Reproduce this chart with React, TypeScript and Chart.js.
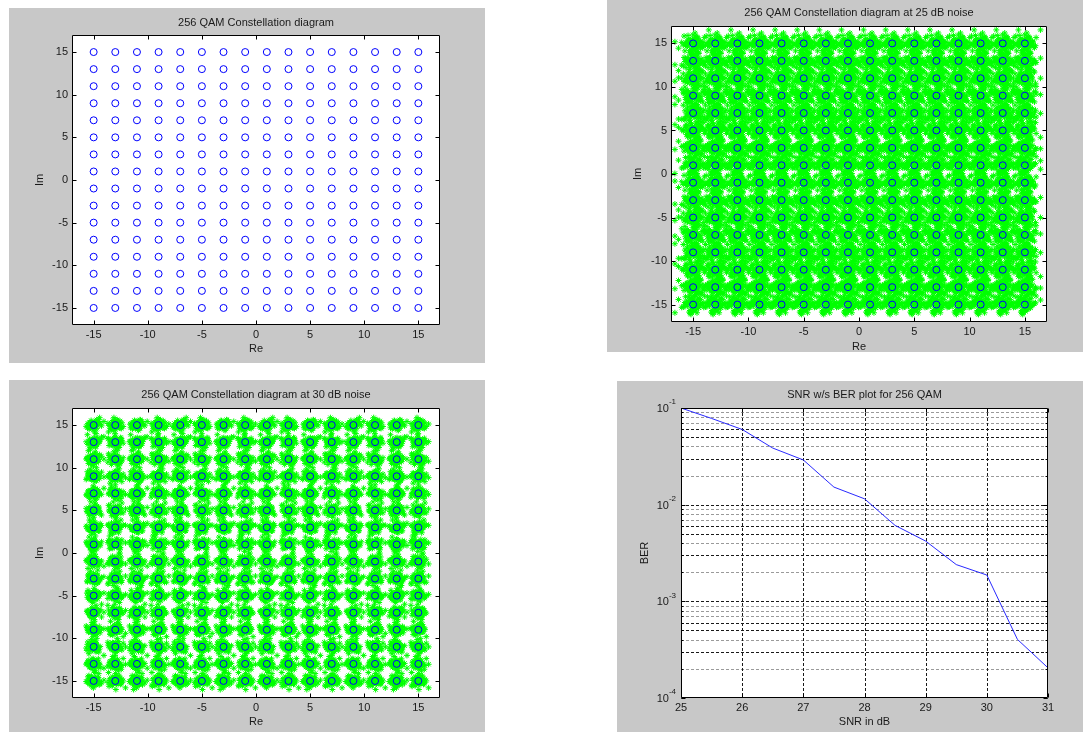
import React, { useEffect, useRef } from 'react';
import { Chart, registerables } from 'chart.js';

Chart.register(...registerables);

// ---------------- data ----------------
const QAM_LEVELS = [-15, -13, -11, -9, -7, -5, -3, -1, 1, 3, 5, 7, 9, 11, 13, 15];
const IQ_TICKS = [-15, -10, -5, 0, 5, 10, 15];
const IQ_MIN = -17;
const IQ_MAX = 17;

// hand-typed unit-variance noise samples (re-used per symbol, scaled per SNR)
const NOISE_X = [
  0.12, -0.85, 1.34, -0.27, 0.63, -1.52, 0.05, 0.91, -0.44, 1.78, -0.66, 0.29, -1.13, 0.47, -0.08, 1.05,
  -1.91, 0.38, -0.59, 0.82, -0.21, 1.46, -0.97, 0.17, 0.71, -1.28, 0.56, -0.35, 2.62, -0.73, 0.24, -0.02,
  1.19, -1.64, 0.43, -0.51, 0.88, -0.14, -1.05, 0.66, 1.61, -0.39, 0.33, -2.45, 0.09, 0.95, -0.78, 0.52,
  -0.26, 1.27, -1.37, 0.19, -0.61, 0.74, -0.11, 1.88, -0.93, 0.36, -0.47, 0.58, -1.21, 0.02, 0.81, -3.05,
];
const NOISE_Y = [
  -0.33, 0.77, -1.18, 0.21, 1.42, -0.56, 0.93, -0.07, -1.74, 0.48, 0.14, -0.92, 1.09, -0.29, 0.61, -1.45,
  0.35, 2.21, -0.68, 0.03, -1.02, 0.54, 1.67, -0.18, -0.84, 0.26, -0.41, 1.31, -2.08, 0.69, -0.12, 0.97,
  -0.63, 0.44, 1.56, -1.33, 0.08, -0.75, 0.39, 2.87, -0.24, -1.59, 0.72, 0.16, -0.95, 1.15, -0.49, 0.57,
  1.83, -0.15, -0.71, 0.31, -1.26, 0.86, -0.38, 0.01, 1.24, -1.88, 0.45, -0.58, 0.67, -0.04, -1.07, 0.22,
];
const SIGMA_25DB = 0.54;
const SIGMA_30DB = 0.33;
const SAMPLES_25DB = 64;
const SAMPLES_30DB = 56;

const SNR_DB = [25, 25.5, 26, 26.5, 27, 27.5, 28, 28.5, 29, 29.5, 30, 30.5, 31];
const BER = [0.1, 0.078, 0.06, 0.0385, 0.029, 0.0152, 0.0115, 0.0061, 0.0042, 0.0024, 0.00187, 0.000404, 0.000205];
const SNR_TICKS = [25, 26, 27, 28, 29, 30, 31];
const BER_DECADES = [1e-4, 1e-3, 1e-2, 1e-1];
const BER_EXPONENTS = ['-4', '-3', '-2', '-1'];
const BER_DIGITS = [1, 2, 3, 4, 5, 6, 7, 8, 9];
const BER_DARK_DIGITS = [1, 3, 5, 6];

// ---------------- styling ----------------
const FAMILY = '"Liberation Sans", Arial, Helvetica, sans-serif';
const FONT_SIZE = 11;
const LINE_H = FONT_SIZE * 1.2;
const TEXT = '#1a1a1a';
const PANEL_BG = '#c8c8c8';
const TICK_LEN = 4;

Chart.defaults.font.family = FAMILY;
Chart.defaults.font.size = FONT_SIZE;
Chart.defaults.color = TEXT;

type Geom = {
  left: number; top: number; right: number; bottom: number;
  plotL: number; plotT: number; plotR: number; plotB: number;
  titleY: number; xTitleY: number; yTitleX: number;
};

const G1: Geom = { left: 9, top: 8, right: 485, bottom: 363, plotL: 72, plotT: 35, plotR: 440, plotB: 325, titleY: 23, xTitleY: 349, yTitleX: 40 };
const G2: Geom = { left: 607, top: 0, right: 1083, bottom: 352, plotL: 671, plotT: 26, plotR: 1047, plotB: 322, titleY: 13, xTitleY: 347, yTitleX: 638 };
const G3: Geom = { left: 9, top: 380, right: 485, bottom: 732, plotL: 72, plotT: 408, plotR: 440, plotB: 698, titleY: 395, xTitleY: 722, yTitleX: 40 };
const G4: Geom = { left: 617, top: 381, right: 1083, bottom: 732, plotL: 681, plotT: 408, plotR: 1048, plotB: 698, titleY: 395, xTitleY: 722, yTitleX: 645 };

// ---------------- derived tables ----------------
const IDEAL: { x: number; y: number }[] = [];
QAM_LEVELS.forEach((re) => QAM_LEVELS.forEach((im) => IDEAL.push({ x: re, y: im })));

function noisy(sigma: number, samples: number, a: number[], b: number[], m1: number, m2: number, m3: number, s1: number, s2: number) {
  const out: { x: number; y: number }[] = [];
  const n = a.length;
  IDEAL.forEach((p, i) => {
    for (let k = 0; k < samples; k++) {
      out.push({
        x: p.x + sigma * a[(k + m1 * i + s1) % n],
        y: p.y + sigma * b[(m2 * k + m3 * i + s2) % n],
      });
    }
  });
  return out;
}
const NOISY_25 = noisy(SIGMA_25DB, SAMPLES_25DB, NOISE_X, NOISE_Y, 5, 3, 7, 0, 11);
const NOISY_30 = noisy(SIGMA_30DB, SAMPLES_30DB, NOISE_Y, NOISE_X, 3, 5, 9, 17, 29);

const BER_LINE = SNR_DB.map((s, i) => ({ x: s, y: BER[i] }));
const BER_GRID: number[] = [];
BER_DECADES.slice(0, 3).forEach((d) => BER_DIGITS.forEach((k) => BER_GRID.push(k * d)));

// ---------------- helpers ----------------
function fixedTicks(vals: number[]) {
  return (s: any) => {
    s.ticks = vals.map((v) => ({ value: v }));
  };
}

function axis(g: Geom, horizontal: boolean, text: string, extra: any) {
  return {
    position: horizontal ? 'bottom' : 'left',
    grid: { display: false, drawTicks: false },
    border: { display: false },
    ticks: {
      color: TEXT,
      font: { size: FONT_SIZE, family: FAMILY },
      padding: horizontal ? 3 : 4,
      autoSkip: false,
      maxRotation: 0,
      minRotation: 0,
      callback: (v: any) => String(v),
    },
    title: {
      display: true,
      text,
      color: TEXT,
      font: { size: FONT_SIZE, family: FAMILY, lineHeight: 1.2 },
      padding: horizontal
        ? { top: 0, bottom: g.bottom - g.xTitleY - LINE_H / 2 }
        : { top: g.yTitleX - g.left - LINE_H / 2, bottom: 0 },
    },
    afterFit: (s: any) => {
      if (horizontal) s.height = g.bottom - g.plotB;
      else s.width = g.plotL - g.left;
    },
    ...extra,
  };
}

function baseOptions(g: Geom, title: string, xScale: any, yScale: any) {
  const padTop = g.titleY - g.top - LINE_H / 2;
  const padBottom = g.plotT - g.top - LINE_H - padTop;
  return {
    responsive: false,
    animation: false,
    devicePixelRatio: 1,
    events: [],
    layout: { autoPadding: false, padding: { left: 0, top: 0, bottom: 0, right: g.right - g.plotR } },
    plugins: {
      legend: { display: false },
      tooltip: { enabled: false },
      title: {
        display: true,
        text: title,
        fullSize: false,
        color: TEXT,
        font: { size: FONT_SIZE, family: FAMILY, weight: 'normal', lineHeight: 1.2 },
        padding: { top: padTop, bottom: padBottom },
      },
    },
    scales: { x: xScale, y: yScale },
  };
}

function framePlugin(xTicks: number[], yTicks: number[], yMinor: number[] = []) {
  return {
    id: 'frame',
    beforeDraw(chart: any) {
      const { ctx, chartArea: a } = chart;
      ctx.save();
      ctx.fillStyle = '#ffffff';
      ctx.fillRect(a.left, a.top, a.right - a.left, a.bottom - a.top);
      ctx.restore();
    },
    afterDatasetsDraw(chart: any) {
      const { ctx, chartArea: a, scales } = chart;
      const L = Math.round(a.left) + 0.5;
      const R = Math.round(a.right) - 0.5;
      const T = Math.round(a.top) + 0.5;
      const B = Math.round(a.bottom) - 0.5;
      ctx.save();
      ctx.strokeStyle = '#000000';
      ctx.lineWidth = 1;
      ctx.setLineDash([]);
      ctx.beginPath();
      ctx.rect(L, T, R - L, B - T);
      for (const v of xTicks) {
        const px = Math.round(scales.x.getPixelForValue(v)) + 0.5;
        ctx.moveTo(px, T);
        ctx.lineTo(px, T + TICK_LEN);
        ctx.moveTo(px, B);
        ctx.lineTo(px, B - TICK_LEN);
      }
      const yMarks = (vals: number[], len: number) => {
        for (const v of vals) {
          const py = Math.round(scales.y.getPixelForValue(v)) + 0.5;
          ctx.moveTo(L, py);
          ctx.lineTo(L + len, py);
          ctx.moveTo(R, py);
          ctx.lineTo(R - len, py);
        }
      };
      yMarks(yTicks, TICK_LEN);
      yMarks(yMinor, 2);
      ctx.stroke();
      ctx.restore();
    },
  };
}

const berGridPlugin = {
  id: 'berGrid',
  beforeDatasetsDraw(chart: any) {
    const { ctx, chartArea: a, scales } = chart;
    ctx.save();
    ctx.lineWidth = 1;
    ctx.setLineDash([3, 2]);
    for (const v of BER_GRID) {
      if (v <= BER_DECADES[0] * 1.0001) continue;
      const py = Math.round(scales.y.getPixelForValue(v)) + 0.5;
      const digit = Math.round(v / Math.pow(10, Math.floor(Math.log10(v) + 1e-9)));
      ctx.strokeStyle = BER_DARK_DIGITS.includes(digit) ? '#1a1a1a' : '#9a9a9a';
      ctx.beginPath();
      ctx.moveTo(a.left, py);
      ctx.lineTo(a.right, py);
      ctx.stroke();
    }
    ctx.strokeStyle = '#1a1a1a';
    for (const v of SNR_TICKS.slice(1, -1)) {
      const px = Math.round(scales.x.getPixelForValue(v)) + 0.5;
      ctx.beginPath();
      ctx.moveTo(px, a.top);
      ctx.lineTo(px, a.bottom);
      ctx.stroke();
    }
    ctx.restore();
  },
  afterDraw(chart: any) {
    const { ctx, chartArea: a, scales } = chart;
    ctx.save();
    ctx.fillStyle = TEXT;
    ctx.textAlign = 'right';
    ctx.textBaseline = 'middle';
    BER_DECADES.forEach((v, i) => {
      const y = scales.y.getPixelForValue(v);
      const xr = a.left - 5;
      ctx.font = `8px ${FAMILY}`;
      const sup = BER_EXPONENTS[i];
      const w = ctx.measureText(sup).width;
      ctx.fillText(sup, xr, y - 6);
      ctx.font = `${FONT_SIZE}px ${FAMILY}`;
      ctx.fillText('10', xr - w, y + 1);
    });
    ctx.restore();
  },
};

function iqScales(g: Geom) {
  const x = axis(g, true, 'Re', { type: 'linear', min: IQ_MIN, max: IQ_MAX, afterBuildTicks: fixedTicks(IQ_TICKS) });
  const y = axis(g, false, 'Im', { type: 'linear', min: IQ_MIN, max: IQ_MAX, afterBuildTicks: fixedTicks(IQ_TICKS) });
  return { x, y };
}

const idealDataset = {
  data: IDEAL,
  pointStyle: 'circle',
  pointRadius: 3.5,
  pointBorderWidth: 1,
  borderColor: '#0000ff',
  backgroundColor: 'rgba(0,0,0,0)',
  showLine: false,
  clip: 0,
};

function noisyDataset(data: { x: number; y: number }[]) {
  return {
    data,
    pointStyle: 'star',
    pointRadius: 3,
    pointBorderWidth: 1,
    borderColor: '#00ff00',
    backgroundColor: '#00ff00',
    showLine: false,
    clip: 0,
  };
}

function makeConstellation(g: Geom, title: string, noise: { x: number; y: number }[] | null) {
  const { x, y } = iqScales(g);
  const datasets: any[] = [idealDataset];
  if (noise) datasets.push(noisyDataset(noise));
  return {
    type: 'scatter',
    data: { datasets },
    options: baseOptions(g, title, x, y),
    plugins: [framePlugin(IQ_TICKS, IQ_TICKS)],
  };
}

function makeBer(g: Geom) {
  const x = axis(g, true, 'SNR in dB', { type: 'linear', min: 25, max: 31, afterBuildTicks: fixedTicks(SNR_TICKS) });
  const y = axis(g, false, 'BER', { type: 'logarithmic', min: 1e-4, max: 1e-1, afterBuildTicks: fixedTicks(BER_DECADES) });
  y.ticks = { ...y.ticks, display: false };
  return {
    type: 'scatter',
    data: {
      datasets: [
        {
          data: BER_LINE,
          showLine: true,
          borderColor: '#2a2aff',
          borderWidth: 1,
          pointRadius: 0,
          fill: false,
          tension: 0,
        },
      ],
    },
    options: baseOptions(g, 'SNR w/s BER plot for 256 QAM', x, y),
    plugins: [framePlugin(SNR_TICKS, BER_DECADES, BER_GRID), berGridPlugin],
  };
}

function ChartPanel({ g, make }: { g: Geom; make: () => any }) {
  const ref = useRef<HTMLCanvasElement>(null);
  useEffect(() => {
    const chart = new Chart(ref.current as HTMLCanvasElement, make());
    return () => chart.destroy();
  }, []);
  const w = g.right - g.left;
  const h = g.bottom - g.top;
  return (
    <canvas
      ref={ref}
      width={w}
      height={h}
      style={{ position: 'absolute', left: g.left, top: g.top, width: w, height: h, background: PANEL_BG }}
    />
  );
}

export default function App() {
  return (
    <div style={{ position: 'absolute', left: 0, top: 0, width: 1083, height: 732, background: '#ffffff', overflow: 'hidden' }}>
      <ChartPanel g={G1} make={() => makeConstellation(G1, '256 QAM Constellation diagram', null)} />
      <ChartPanel g={G2} make={() => makeConstellation(G2, '256 QAM Constellation diagram at 25 dB noise', NOISY_25)} />
      <ChartPanel g={G3} make={() => makeConstellation(G3, '256 QAM Constellation diagram at 30 dB noise', NOISY_30)} />
      <ChartPanel g={G4} make={() => makeBer(G4)} />
    </div>
  );
}
